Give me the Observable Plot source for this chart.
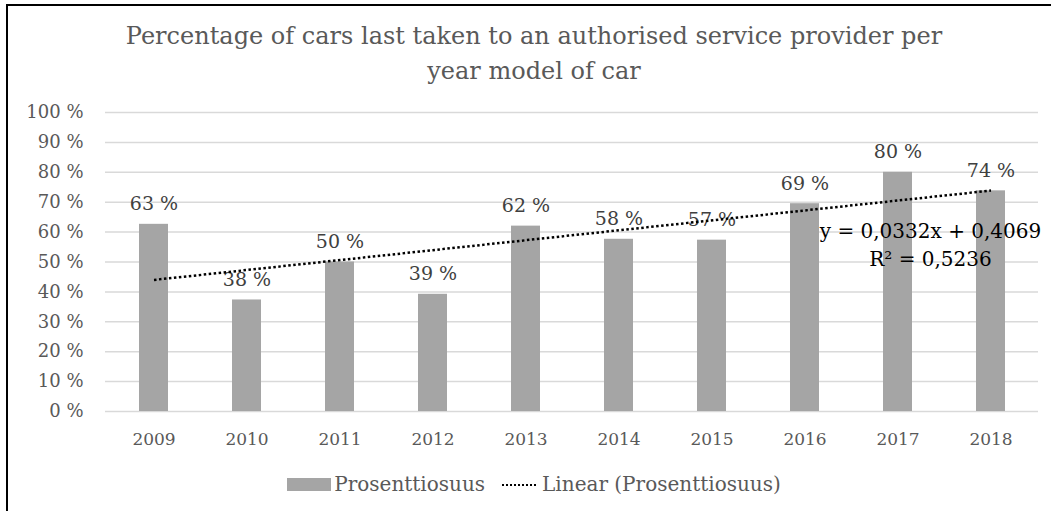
<!DOCTYPE html>
<html><head><meta charset="utf-8">
<script src="https://cdn.jsdelivr.net/npm/d3@7"></script>
<script src="https://cdn.jsdelivr.net/npm/@observablehq/plot@0.6"></script>
<style>
body{margin:0;background:#fff;}
#wrap{position:relative;width:1051px;height:511px;overflow:hidden;font-family:"DejaVu Serif",serif;background:#fff;}
#frameTop{position:absolute;left:6px;top:4px;width:1045px;height:2px;background:#000;}
#frameLeft{position:absolute;left:6px;top:4px;width:2px;height:507px;background:#000;}
#title{position:absolute;left:17px;width:1034px;top:19px;text-align:center;font-size:24px;line-height:35px;color:#595959;}
#chart{position:absolute;left:0;top:95px;}
#legend{position:absolute;left:17px;width:1034px;top:472px;height:24px;display:flex;justify-content:center;align-items:center;font-size:20px;color:#595959;}
#legend .sw{display:inline-block;width:44px;height:13px;background:#a5a5a5;margin-right:3px;}
#legend svg{margin-left:16px;margin-right:3px;}
</style>
</head><body>
<div id="wrap">
  <div id="frameTop"></div><div id="frameLeft"></div>
  <div id="title">Percentage of cars last taken to an authorised service provider per<br>year model of car</div>
  <div id="chart"></div>
  <div id="legend"><span class="sw"></span><span>Prosenttiosuus</span><svg width="38" height="12"><line x1="1" y1="7" x2="37" y2="7" stroke="#000" stroke-width="2" stroke-dasharray="2,2"/></svg><span>Linear (Prosenttiosuus)</span></div>
</div>
<script>
const years = ["2009","2010","2011","2012","2013","2014","2015","2016","2017","2018"];
const shares = [0.626,0.373,0.50,0.392,0.62,0.576,0.573,0.695,0.80,0.738];
const shareLabels = ["63 %","38 %","50 %","39 %","62 %","58 %","57 %","69 %","80 %","74 %"];
const yTicks = [0,0.1,0.2,0.3,0.4,0.5,0.6,0.7,0.8,0.9,1];
const trendYears = ["2009","2018"];
const trendValues = [0.4401, 0.7389];
const equationLines = ["y = 0,0332x + 0,4069", "R² = 0,5236"];

const data = years.map((year, i) => ({year, share: shares[i], label: shareLabels[i]}));
const trend = trendYears.map((year, i) => ({year, value: trendValues[i]}));

const chart = Plot.plot({
  width: 1051,
  height: 361,
  marginTop: 17,
  marginBottom: 45,
  marginLeft: 105,
  marginRight: 13,
  style: {fontFamily: "DejaVu Serif, serif", fontSize: "17px", color: "#595959", background: "transparent"},
  x: {domain: years, paddingInner: 0.69, paddingOuter: 0.345, label: null},
  y: {domain: [0, 1], label: null},
  marks: [
    Plot.ruleY(yTicks, {stroke: "#d9d9d9", strokeWidth: 1.5}),
    Plot.barY(data, {x: "year", y: "share", fill: "#a5a5a5"}),
    Plot.text(data, {x: "year", y: "share", text: "label", dy: -20, fill: "#404040", fontSize: 19}),
    Plot.line(trend, {x: "year", y: "value", stroke: "#000", strokeWidth: 2.5, strokeLinecap: "butt", strokeDasharray: "2.5,2.5"}),
    Plot.text([equationLines.join("\n")], {frameAnchor: "top-right", text: d => d, textAnchor: "middle", lineAnchor: "middle", dx: -108, dy: 131, lineHeight: 1.4, fill: "#000", fontSize: 20}),
    Plot.axisY(yTicks, {tickSize: 0, tickPadding: 22, tickFormat: d => `${Math.round(d * 100)} %`, fontSize: 18, fill: "#595959"}),
    Plot.axisX({tickSize: 0, tickPadding: 21, fontSize: 17, fill: "#595959"})
  ]
});
document.getElementById("chart").appendChild(chart);
</script>
</body></html>
